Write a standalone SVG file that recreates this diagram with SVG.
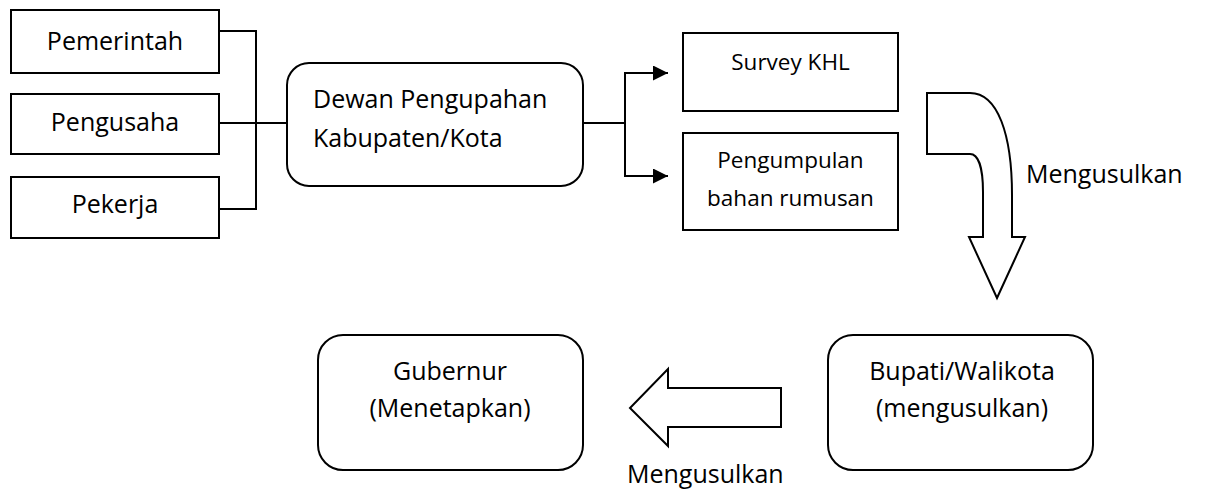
<svg xmlns="http://www.w3.org/2000/svg" width="1206" height="493" viewBox="0 0 1206 493">
<defs>
<style>
.box{fill:#fff;stroke:#000;stroke-width:2}
.t{font-family:"Open Sans","Liberation Sans",sans-serif;font-size:25px;fill:#000}
.s{font-family:"Open Sans","Liberation Sans",sans-serif;font-size:22.5px;fill:#000}
.c{text-anchor:middle}
.ln{fill:none;stroke:#000;stroke-width:2}
.big{fill:#fff;stroke:#000;stroke-width:2;stroke-linejoin:miter}
</style>
<marker id="ah" viewBox="0 0 10 10" refX="10" refY="5" markerWidth="15" markerHeight="15" markerUnits="userSpaceOnUse" orient="auto">
<path d="M0,0 L10,5 L0,10 Z" fill="#000"/>
</marker>
</defs>
<rect width="1206" height="493" fill="#fff"/>
<g id="connectors">
<path class="ln" d="M219,31 H256 V209 H219"/>
<path class="ln" d="M219,123 H287"/>
<path class="ln" d="M583,123 H625" stroke-width="3"/>
<path class="ln" d="M625,123 V73 H668" marker-end="url(#ah)"/>
<path class="ln" d="M625,123 V176 H668" marker-end="url(#ah)"/>
</g>
<g id="pemerintah"><rect class="box" x="11" y="10" width="208" height="63"/><text class="t c" x="115" y="50">Pemerintah</text></g>
<g id="pengusaha"><rect class="box" x="11" y="94" width="208" height="60"/><text class="t c" x="115" y="131">Pengusaha</text></g>
<g id="pekerja"><rect class="box" x="11" y="177" width="208" height="61"/><text class="t c" x="115" y="213">Pekerja</text></g>
<g id="dewan"><rect class="box" x="287" y="63" width="296" height="123" rx="22"/><text class="t" x="313" y="108">Dewan Pengupahan</text><text class="t" x="313" y="147">Kabupaten/Kota</text></g>
<g id="survey"><rect class="box" x="683" y="33" width="215" height="78"/><text class="s c" x="790.5" y="70">Survey KHL</text></g>
<g id="pengumpulan"><rect class="box" x="683" y="133" width="215" height="97"/><text class="s c" x="790.5" y="168">Pengumpulan</text><text class="s c" x="790.5" y="206">bahan rumusan</text></g>
<g id="arrow-down"><path class="big" d="M927,93 L970,93 C998,93 1012,135 1012,195 L1012,237 L1025,237 L997,298 L969,237 L983,237 L983,192 C983,167 978,154 970,154 L927,154 Z"/><text class="t" x="1026" y="183">Mengusulkan</text></g>
<g id="bupati"><rect class="box" x="828" y="335" width="265" height="135" rx="25"/><text class="t c" x="962" y="380">Bupati/Walikota</text><text class="t c" x="962" y="417">(mengusulkan)</text></g>
<g id="arrow-left"><path class="big" d="M781,388 L668,388 L668,369 L630,408 L668,446 L668,427 L781,427 Z"/><text class="t" x="627" y="483">Mengusulkan</text></g>
<g id="gubernur"><rect class="box" x="318" y="335" width="265" height="135" rx="25"/><text class="t c" x="450" y="380">Gubernur</text><text class="t c" x="450" y="417">(Menetapkan)</text></g>
</svg>
